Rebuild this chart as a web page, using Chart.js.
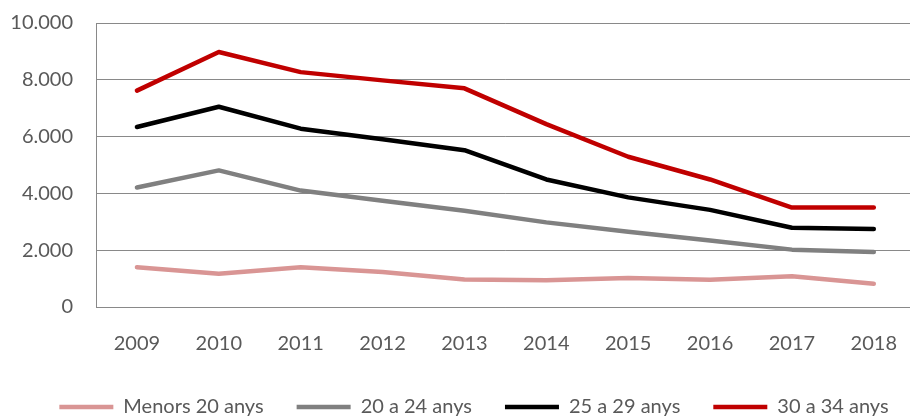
<!DOCTYPE html>
<html>
<head>
<meta charset="utf-8">
<script src="https://cdn.jsdelivr.net/npm/chart.js@4/dist/chart.umd.min.js"></script>
<style>
  html, body { margin: 0; padding: 0; background: #fff; overflow: hidden; }
  #wrap { width: 922px; height: 418px; }
</style>
</head>
<body>
<div id="wrap"><canvas id="chart" width="922" height="418"></canvas></div>
<script>
// --- Data ---
const years = ['2009', '2010', '2011', '2012', '2013', '2014', '2015', '2016', '2017', '2018'];
const seriesNames = ['Menors 20 anys', '20 a 24 anys', '25 a 29 anys', '30 a 34 anys'];
const menors20 = [1400, 1170, 1400, 1230, 970, 940, 1020, 960, 1080, 820];
const de20a24 = [4210, 4810, 4100, 3740, 3390, 2980, 2650, 2340, 2020, 1940];
const de25a29 = [6340, 7050, 6280, 5910, 5520, 4490, 3860, 3420, 2790, 2750];
const de30a34 = [7620, 8980, 8270, 7980, 7700, 6440, 5290, 4490, 3500, 3500];
const yTicks = [0, 2000, 4000, 6000, 8000, 10000];

const colors = ['#d99594', '#808080', '#000000', '#c00000'];
const textColor = '#595959';
const gridColor = '#898989';

function thousands(v) {
    return String(v).replace(/\B(?=(\d{3})+(?!\d))/g, '.');
}

// nudge legend so it sits centred like the reference (plot area runs past the window edge)
const legendShift = {
    id: 'legendShift',
    afterLayout(chart) {
        chart.legend.left += 13;
        chart.legend.right += 13;
    }
};

const datasets = [menors20, de20a24, de25a29, de30a34].map((vals, i) => ({
    label: seriesNames[i],
    data: vals,
    borderColor: colors[i],
    backgroundColor: colors[i],
    borderWidth: 4.5,
    borderCapStyle: 'round',
    borderJoinStyle: 'round',
    pointRadius: 0,
    tension: 0
}));

new Chart(document.getElementById('chart'), {
    type: 'line',
    data: { labels: years, datasets: datasets },
    options: {
        responsive: false,
        devicePixelRatio: 1,
        animation: false,
        layout: { padding: { top: 23, left: 0, right: 0, bottom: -9 } },
        scales: {
            x: {
                offset: true,
                grid: { display: false, drawTicks: false },
                border: { display: true, color: gridColor, width: 1 },
                ticks: { color: textColor, font: { family: 'Lato', size: 20 }, padding: 25, maxRotation: 0 },
                afterFit(scale) { scale.height = 57; }
            },
            y: {
                min: 0,
                max: 10000,
                afterBuildTicks(scale) { scale.ticks = yTicks.map(v => ({ value: v })); },
                grid: { color: gridColor, lineWidth: 1, drawTicks: false },
                border: { display: true, color: gridColor, width: 1 },
                ticks: {
                    color: textColor,
                    font: { family: 'Lato', size: 20 },
                    padding: 23,
                    callback: v => thousands(v)
                },
                afterFit(scale) {
                    scale.width = 96;
                    scale.paddingTop = 0;
                    scale.paddingBottom = 0;
                }
            }
        },
        plugins: {
            tooltip: { enabled: false },
            legend: {
                position: 'bottom',
                labels: {
                    usePointStyle: true,
                    pointStyle: 'line',
                    pointStyleWidth: 54,
                    boxHeight: 20,
                    color: textColor,
                    font: { family: 'Lato', size: 20 },
                    padding: 33
                }
            }
        }
    },
    plugins: [legendShift]
});
</script>
</body>
</html>
